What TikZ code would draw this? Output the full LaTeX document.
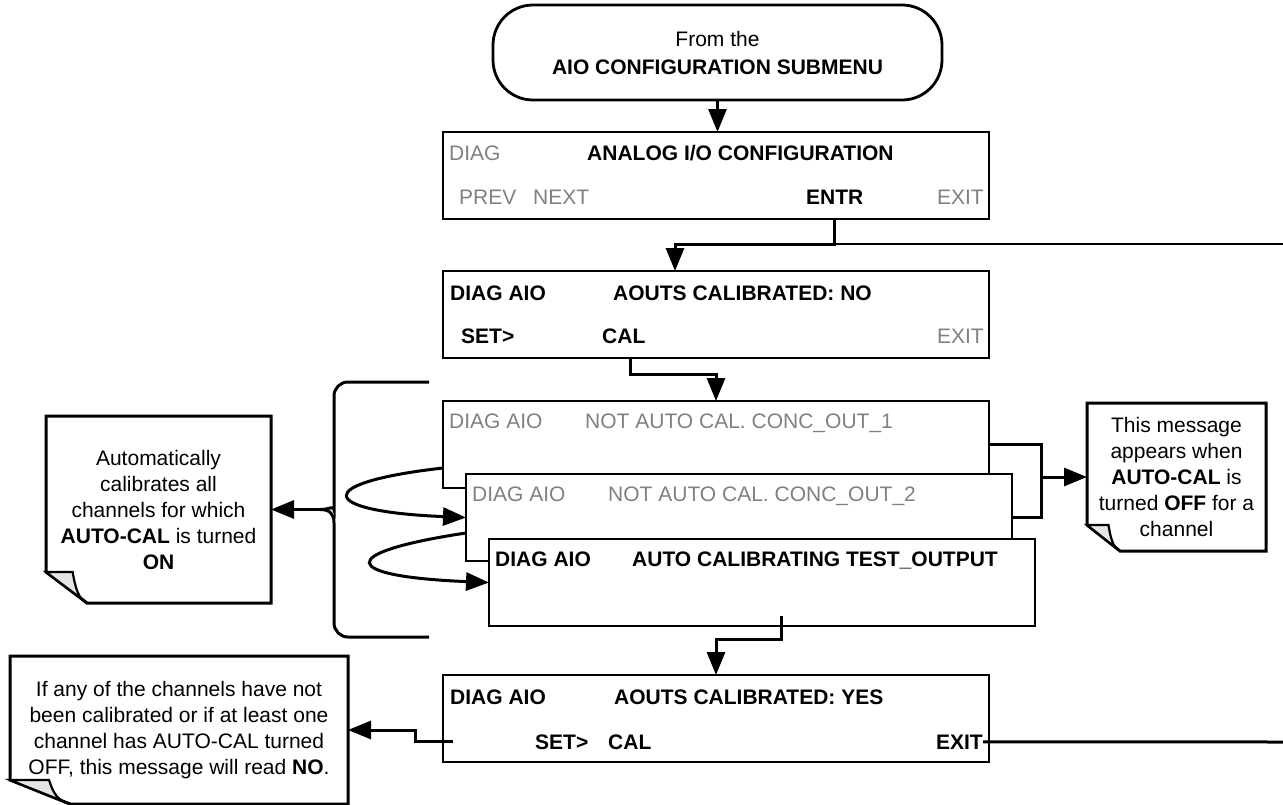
\documentclass[tikz,border=0pt]{standalone}
\usepackage{fontspec}
\setmainfont{Liberation Sans}
\usetikzlibrary{positioning,calc,arrows.meta}
\definecolor{lcdGray}{RGB}{128,128,128}
\definecolor{curlGray}{RGB}{228,228,228}

% note outline with the folded corner at bottom left
\newcommand{\dogear}[3]{%
  \draw[wire] (#1.north west) -- (#1.north east) -- (#1.south east)
    -- ([xshift=#2]#1.south west) -- ([yshift=#3]#1.south west) -- cycle;
  \draw[wire, line width=2.2pt, fill=curlGray] ([yshift=#3]#1.south west)
    -- ([xshift=0.65*#2,yshift=#3]#1.south west)
    .. controls ([xshift=0.72*#2,yshift=0.45*#3]#1.south west)
           and ([xshift=0.8*#2,yshift=0.12*#3]#1.south west)
    .. ([xshift=#2]#1.south west) -- cycle;}

\begin{document}
\begin{tikzpicture}[x=1pt, y=-1pt,
    termbox/.style={draw, line width=2.8pt, rounded corners=40pt, minimum width=449pt, minimum height=95pt, align=center, font=\fontsize{21}{28}\selectfont},
    screen/.style={draw, line width=2.8pt, minimum width=546pt, minimum height=87pt, inner sep=0pt, outer sep=0pt},
    note/.style={inner sep=0pt, outer sep=0pt, align=center, font=\fontsize{21}{26}\selectfont},
    lcd/.style={inner sep=0pt, anchor=base west, font=\fontsize{21}{26}\selectfont},
    lit/.style={lcd, font=\fontsize{21}{26}\selectfont\bfseries},
    dim/.style={lcd, text=lcdGray},
    wire/.style={line width=3pt},
    arrow/.style={wire, -{Triangle[length=23pt,width=18pt]}}
  ]
  \useasboundingbox (0,0) rectangle (1283,804);

  \node[termbox] (term) at (717.5,52.5) {From the\\\textbf{AIO CONFIGURATION SUBMENU}};

  % analog i/o configuration
  \node[screen, anchor=north west] (b1) at (443,132) {};
  \node[dim] (b1diag) at ([xshift=6pt,yshift=-28pt]b1.north west) {DIAG};
  \node[lit] (b1title) at ([xshift=144pt,yshift=-28pt]b1.north west) {ANALOG I/O CONFIGURATION};
  \node[dim] (b1prev) at ([xshift=16pt,yshift=-72pt]b1.north west) {PREV};
  \node[dim] (b1next) at ([xshift=90pt,yshift=-72pt]b1.north west) {NEXT};
  \node[lit] (b1entr) at ([xshift=363pt,yshift=-72pt]b1.north west) {ENTR};
  \node[dim, anchor=base east] (b1exit) at ([xshift=-5pt,yshift=-72pt]b1.north east) {EXIT};

  % calibrated: no
  \node[screen, below=52pt of b1] (b2) {};
  \node[lit] (b2diag) at ([xshift=7pt,yshift=-29pt]b2.north west) {DIAG AIO};
  \node[lit] (b2title) at ([xshift=170pt,yshift=-29pt]b2.north west) {AOUTS CALIBRATED: NO};
  \node[lit] (b2set) at ([xshift=18pt,yshift=-72pt]b2.north west) {SET>};
  \node[lit] (b2cal) at ([xshift=159pt,yshift=-72pt]b2.north west) {CAL};
  \node[dim, anchor=base east] (b2exit) at ([xshift=-5pt,yshift=-72pt]b2.north east) {EXIT};

  % stacked channel screens
  \node[screen, below=43pt of b2] (b3) {};
  \node[dim] (b3diag) at ([xshift=6pt,yshift=-27pt]b3.north west) {DIAG AIO};
  \node[dim] (b3msg) at ([xshift=142pt,yshift=-27pt]b3.north west) {NOT AUTO CAL. CONC\_OUT\_1};
  \node[screen, fill=white, anchor=north west] (b4) at ([xshift=23pt,yshift=-73pt]b3.north west) {};
  \node[dim] (b4diag) at ([xshift=6pt,yshift=-27pt]b4.north west) {DIAG AIO};
  \node[dim] (b4msg) at ([xshift=142pt,yshift=-27pt]b4.north west) {NOT AUTO CAL. CONC\_OUT\_2};
  \node[screen, fill=white, anchor=north west] (b5) at ([xshift=23pt,yshift=-65pt]b4.north west) {};
  \node[lit] (b5diag) at ([xshift=6pt,yshift=-27pt]b5.north west) {DIAG AIO};
  \node[lit] (b5msg) at ([xshift=143pt,yshift=-27pt]b5.north west) {AUTO CALIBRATING TEST\_OUTPUT};

  % calibrated: yes
  \node[screen, anchor=north west] (b6) at (443,675) {};
  \node[lit] (b6diag) at ([xshift=7pt,yshift=-29pt]b6.north west) {DIAG AIO};
  \node[lit] (b6title) at ([xshift=171pt,yshift=-29pt]b6.north west) {AOUTS CALIBRATED: YES};
  \node[lit] (b6set) at ([xshift=92pt,yshift=-74pt]b6.north west) {SET>};
  \node[lit] (b6cal) at ([xshift=165pt,yshift=-74pt]b6.north west) {CAL};
  \node[lit, anchor=base east] (b6exit) at ([xshift=-6pt,yshift=-74pt]b6.north east) {EXIT};

  % notes
  \node[note, minimum width=225pt, minimum height=187pt] (autonote) at (158.5,509.5)
    {Automatically\\calibrates all\\channels for which\\\textbf{AUTO-CAL} is turned\\\textbf{ON}};
  \node[note, minimum width=338pt, minimum height=148pt] (readnote) at (179,730)
    {If any of the channels have not\\been calibrated or if at least one\\channel has AUTO-CAL turned\\OFF, this message will read \textbf{NO}.};
  \node[note, minimum width=179pt, minimum height=148pt] (offnote) at (1176.5,477)
    {This message\\appears when\\\textbf{AUTO-CAL} is\\turned \textbf{OFF} for a\\channel};
  \dogear{autonote}{41pt}{31pt}
  \dogear{readnote}{60pt}{24pt}
  \dogear{offnote}{33pt}{26pt}

  \coordinate (outA) at (1283,244);
  \coordinate (outB) at (1283,742);
  \coordinate (merge) at ($(b4.east)+(29,0)$);
  \coordinate (bracetip) at (320,509.5);

  \draw[arrow] (term.south) -- (term.south |- b1.north);
  \draw[arrow] (b1entr |- b1.south) -- ++(0,25) -| ([xshift=-41pt]b2.north);
  \draw[wire, line width=2.2pt] (b1entr |- b1.south) ++(0,25) -- (outA);
  \draw[arrow] ([xshift=-86pt]b2.south) -- ++(0,16) -| (b3.north);
  \draw[wire] (b3.east) -| (merge) -- (b4.east);
  \draw[arrow] (merge |- offnote.west) -- (offnote.west);
  \draw[arrow] ($(b3.west)+(0,23.5)$) .. controls +(-133,15) and +(-148,-6) .. (b4.west);
  \draw[arrow] ($(b4.west)+(0,15.5)$) .. controls +(-133,20) and +(-148,-6) .. (b5.west);
  \draw[arrow] ($(b5.south)+(19,-10)$) -- ++(0,23) -| (b6.north);
  \draw[arrow] ($(b6.west)+(10,23)$) -- ++(-38,0) |- (readnote.east);
  \draw[wire] (b6exit.east) -- (outB);

  % brace round the channel screens
  \draw[wire, rounded corners=14pt] (429,382) -| (334,496) [sharp corners]
    .. controls (334,505) and (330,509.5) .. (bracetip)
    .. controls (330,509.5) and (334,514) .. (334,523) [rounded corners=14pt] |- (429,637);
  \draw[arrow] (bracetip) -- (autonote.east);
\end{tikzpicture}
\end{document}
